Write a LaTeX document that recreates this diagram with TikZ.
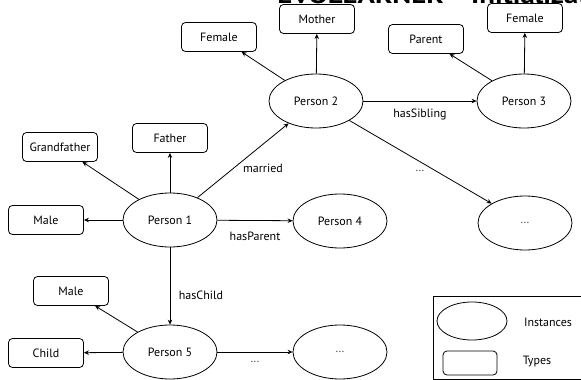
\documentclass[tikz,border=0pt]{standalone}
\usepackage{fontspec}
\setmainfont{PT Sans}
\usetikzlibrary{shapes.geometric,arrows.meta}
\begin{document}
\begin{tikzpicture}[x=1pt,y=-1pt,
  font=\fontsize{12}{14}\selectfont,
  every path/.style={line width=0.8pt},
  inst/.style={draw,ellipse,minimum width=94pt,minimum height=54pt,inner sep=0pt},
  typ/.style={draw,rounded corners=4pt,minimum width=75pt,minimum height=29pt,inner sep=0pt},
  lbl/.style={inner sep=0pt},
  dots/.style={inner sep=0pt,text=black!70},
  rel/.style={-{Stealth[length=5pt,width=4.5pt]}}]
\useasboundingbox (0,0) rectangle (581,380);

% heading (runs off the top edge)
\node[anchor=base west,inner sep=0pt,font=\fontsize{23}{26}\selectfont\bfseries] (title) at (277,4) {\scalebox{1.25}[1]{EVOLEARNER\hspace{0.15em}--\hspace{0.15em}Initialization}};

% instances
\node[inst] (p1) at (170,220) {Person 1};
\node[inst] (p2) at (316,101) {Person 2};
\node[inst] (p3) at (524,101) {Person 3};
\node[inst] (p4) at (340,221) {Person 4};
\node[inst] (pr) at (525,223) {\textcolor{black!70}{\ldots}};
\node[inst] (p5) at (170,352) {Person 5};
\node[inst] (pb) at (340,352) {\textcolor{black!70}{\ldots}};

% types
\node[typ] (fem2) at (219,37) {Female};
\node[typ] (mother) at (317,19) {Mother};
\node[typ] (parent) at (426,39) {Parent};
\node[typ] (fem3) at (525,18) {Female};
\node[typ] (gfather) at (60,147) {Grandfather};
\node[typ] (father) at (170,138) {Father};
\node[typ] (male1) at (46,220) {Male};
\node[typ] (male5) at (71,291) {Male};
\node[typ] (child) at (46,353) {Child};

% type assertions
\draw[rel] (p1) -- (male1);
\draw[rel] (p1) -- (gfather);
\draw[rel] (p1) -- (father);
\draw[rel] (p2) -- (fem2);
\draw[rel] (p2) -- (mother);
\draw[rel] (p3) -- (parent);
\draw[rel] (p3) -- (fem3);
\draw[rel] (p5) -- (male5);
\draw[rel] (p5) -- (child);

% relations
\draw[rel] (p1) -- (p2);
\draw[rel] (p1) -- (p4);
\draw[rel] (p1) -- (p5);
\draw[rel] (p2) -- (p3);
\draw[rel] (p2) -- (pr);
\draw[rel] (p5) -- (pb);

% relation labels
\node[lbl] (lmarried) at (263,168) {married};
\node[lbl] (lparent) at (255,236) {hasParent};
\node[lbl] (lchild) at (201,295) {hasChild};
\node[lbl] (lsibling) at (420,114) {hasSibling};
\node[dots] (ldots1) at (420,171) {\ldots};
\node[dots] (ldots2) at (255,362) {\ldots};

% legend
\draw (433,296) rectangle (590,379);
\node[draw,ellipse,minimum width=70pt,minimum height=38pt,inner sep=0pt] (lginst) at (472,321) {};
\node[draw,rounded corners=4pt,minimum width=54pt,minimum height=24pt,inner sep=0pt] (lgtyp) at (470,363) {};
\node[lbl] (lgitext) at (548,322) {Instances};
\node[lbl] (lgttext) at (537,362) {Types};
\end{tikzpicture}
\end{document}
